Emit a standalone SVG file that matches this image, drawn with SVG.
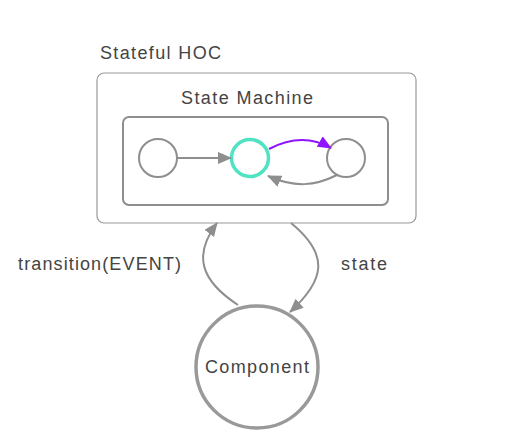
<svg xmlns="http://www.w3.org/2000/svg" width="518" height="446" viewBox="0 0 518 446">
<style>
.lbl{font-family:"Liberation Sans",Arial,sans-serif;font-size:18px;fill:#444}
.box{fill:#fff;stroke:#999;stroke-width:1.2}
.st{fill:#fff;stroke:#8e8e8e;stroke-width:2}
.edge{fill:none;stroke:#8e8e8e;stroke-width:2}
</style>
<defs>
<marker id="ag" markerUnits="userSpaceOnUse" markerWidth="14" markerHeight="12" refX="13" refY="6" orient="auto"><path d="M0,0 L14,6 L0,12 Z" fill="#8e8e8e"/></marker>
<marker id="ap" markerUnits="userSpaceOnUse" markerWidth="14" markerHeight="12" refX="13" refY="6" orient="auto"><path d="M0,0 L14,6 L0,12 Z" fill="#9013fe"/></marker>
</defs>
<rect width="518" height="446" fill="#fff"/>
<g id="hoc">
<rect class="box" x="97" y="73" width="319" height="150" rx="7"/>
<text class="lbl" x="100" y="59" textLength="121">Stateful HOC</text>
</g>
<g id="machine">
<rect x="123" y="117" width="265" height="88" rx="6" fill="#fff" stroke="#8e8e8e" stroke-width="2"/>
<text class="lbl" x="247" y="104" text-anchor="middle" textLength="132">State Machine</text>
</g>
<g id="s1"><circle class="st" cx="158" cy="158" r="19"/></g>
<g id="s2"><circle cx="250" cy="158" r="18.5" fill="#fff" stroke="#50e3c2" stroke-width="3.5"/></g>
<g id="s3"><circle class="st" cx="346" cy="158" r="19"/></g>
<g id="component">
<circle cx="257" cy="367" r="61" fill="#fff" stroke="#999" stroke-width="3.5"/>
<text class="lbl" x="257" y="373" text-anchor="middle" textLength="104">Component</text>
</g>
<g id="connectors">
<path class="edge" d="M177,158 L231,158" marker-end="url(#ag)"/>
<path d="M269,149 C290,138 310,136 331,148" fill="none" stroke="#9013fe" stroke-width="2" marker-end="url(#ap)"/>
<path class="edge" d="M337,175 C315,186 295,188 268,176" marker-end="url(#ag)"/>
<path class="edge" d="M238,305 C200,280 193,255 217,223" marker-end="url(#ag)"/>
<path class="edge" d="M291,223 C330,255 325,280 290,312" marker-end="url(#ag)"/>
<text class="lbl" x="18" y="270" textLength="163">transition(EVENT)</text>
<text class="lbl" x="341" y="270" textLength="46">state</text>
</g>
</svg>
